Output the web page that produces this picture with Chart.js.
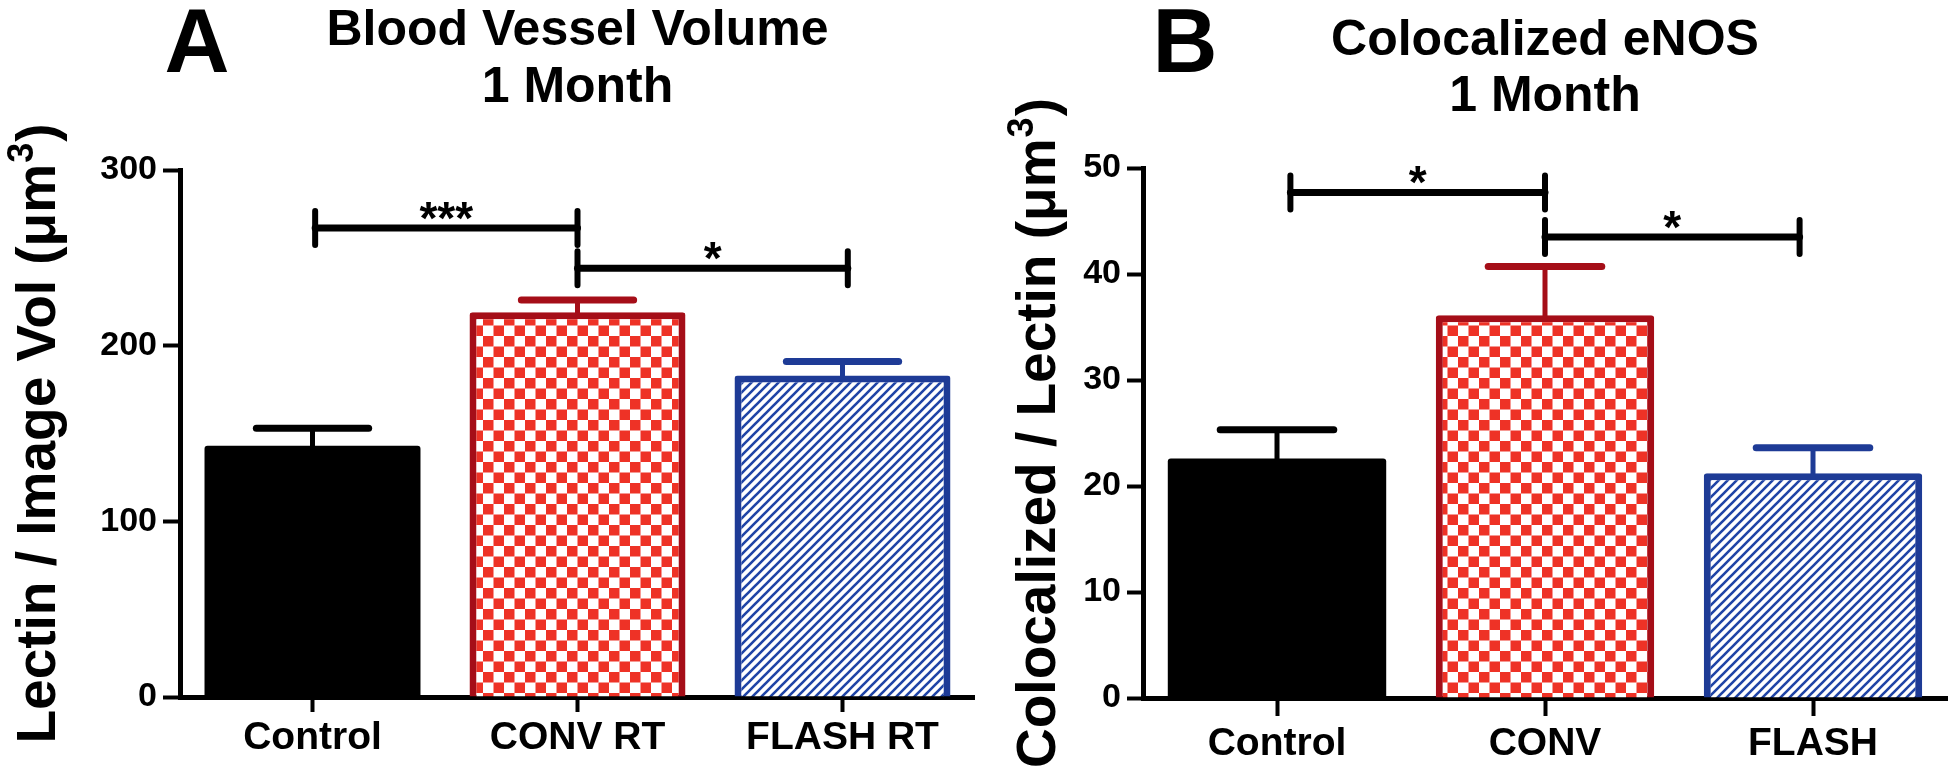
<!DOCTYPE html>
<html>
<head>
<meta charset="utf-8">
<script src="https://cdn.jsdelivr.net/npm/chart.js@4.4.1/dist/chart.umd.min.js"></script>
<style>
  html, body { margin: 0; padding: 0; background: #fff; }
  #wrap { position: relative; width: 1950px; height: 773px; }
  canvas { position: absolute; top: 0; }
  #chartA { left: 0; }
  #chartB { left: 975px; }
</style>
</head>
<body>
<div id="wrap">
  <canvas id="chartA" width="975" height="773"></canvas>
  <canvas id="chartB" width="975" height="773"></canvas>
</div>
<script>
// panel A: blood vessel volume
const groupsA = ['Control', 'CONV RT', 'FLASH RT'];
const meanA = [143, 219, 183];
const semA = [10, 7, 8];
const yTicksA = [0, 100, 200, 300];
const sigPairsA = [[0.01, 1], [1, 2.02]];
const sigLevelA = [267, 244];
const sigTextA = ['***', '*'];

// panel B: colocalized eNOS
const groupsB = ['Control', 'CONV', 'FLASH'];
const meanB = [22.6, 36.1, 21.2];
const semB = [2.7, 4.6, 2.4];
const yTicksB = [0, 10, 20, 30, 40, 50];
const sigPairsB = [[0.05, 1], [1, 1.95]];
const sigLevelB = [47.7, 43.5];
const sigTextB = ['*', '*'];

const FONT = "'Liberation Sans', Arial, sans-serif";
const RED = '#ee3226';
const DARKRED = '#a50e18';
const BLUE = '#1e3b96';

function checker() {
  const c = document.createElement('canvas');
  c.width = 21; c.height = 21;
  const g = c.getContext('2d');
  g.fillStyle = '#fff';
  g.fillRect(0, 0, 21, 21);
  g.fillStyle = RED;
  g.fillRect(0, 0, 10.5, 10.5);
  g.fillRect(10.5, 10.5, 10.5, 10.5);
  return g.createPattern(c, 'repeat');
}

function hatch() {
  const s = 9;
  const c = document.createElement('canvas');
  c.width = s; c.height = s;
  const g = c.getContext('2d');
  g.fillStyle = '#fff';
  g.fillRect(0, 0, s, s);
  g.strokeStyle = '#1f44a6';
  g.lineWidth = 2.6;
  g.beginPath();
  g.moveTo(-1, s + 1); g.lineTo(s + 1, -1);
  g.moveTo(-2, 2); g.lineTo(2, -2);
  g.moveTo(s - 2, s + 2); g.lineTo(s + 2, s - 2);
  g.stroke();
  return g.createPattern(c, 'repeat');
}

// error bars (upper only), significance brackets, panel letter, y title with superscript
const extras = {
  id: 'extras',
  afterDraw(chart, args, o) {
    const { ctx, chartArea } = chart;
    const x = chart.scales.x, y = chart.scales.y;
    const meta = chart.getDatasetMeta(0);
    ctx.save();
    ctx.lineCap = 'round';
    o.mean.forEach((m, i) => {
      const cx = x.getPixelForValue(i);
      const base = y.getPixelForValue(m);
      const top = y.getPixelForValue(m + o.sem[i]);
      const half = meta.data[i].width * 0.26;
      ctx.strokeStyle = o.colors[i];
      ctx.lineWidth = 5;
      ctx.beginPath(); ctx.moveTo(cx, base + 4); ctx.lineTo(cx, top); ctx.stroke();
      ctx.lineWidth = 7;
      ctx.beginPath(); ctx.moveTo(cx - half, top); ctx.lineTo(cx + half, top); ctx.stroke();
    });

    ctx.strokeStyle = '#000';
    ctx.fillStyle = '#000';
    ctx.font = 'bold 46px ' + FONT;
    ctx.textAlign = 'center';
    ctx.textBaseline = 'alphabetic';
    o.pairs.forEach((p, i) => {
      const x1 = x.getPixelForValue(p[0]);
      const x2 = x.getPixelForValue(p[1]);
      const yy = y.getPixelForValue(o.levels[i]);
      ctx.lineWidth = 7;
      ctx.beginPath(); ctx.moveTo(x1, yy); ctx.lineTo(x2, yy); ctx.stroke();
      ctx.lineWidth = 6;
      ctx.beginPath();
      ctx.moveTo(x1, yy - o.tick); ctx.lineTo(x1, yy + o.tick);
      ctx.moveTo(x2, yy - o.tick); ctx.lineTo(x2, yy + o.tick);
      ctx.stroke();
      const mt = ctx.measureText(o.texts[i]);
      const mid = (mt.actualBoundingBoxAscent - mt.actualBoundingBoxDescent) / 2;
      ctx.fillText(o.texts[i], (x1 + x2) / 2, yy - 17 + mid);
    });

    ctx.font = 'bold 90px ' + FONT;
    ctx.fillText(o.letter, o.letterX, 72);

    // rotated axis title: main part, raised "3", closing bracket
    const big = 'bold 55px ' + FONT, small = 'bold 36px ' + FONT;
    ctx.font = big;
    const w1 = ctx.measureText(o.yTitle[0]).width;
    const w3 = ctx.measureText(o.yTitle[2]).width;
    ctx.font = small;
    const w2 = ctx.measureText(o.yTitle[1]).width + 2;
    const total = w1 + w2 + w3;
    ctx.translate(o.yTitleBase, (chartArea.top + chartArea.bottom) / 2);
    ctx.rotate(-Math.PI / 2);
    ctx.textAlign = 'left';
    let pos = -total / 2;
    ctx.font = big;
    ctx.fillText(o.yTitle[0], pos, 0);
    pos += w1 + 1;
    ctx.font = small;
    ctx.fillText(o.yTitle[1], pos, -22);
    pos += w2 - 1;
    ctx.font = big;
    ctx.fillText(o.yTitle[2], pos, 0);
    ctx.restore();
  }
};

function makeChart(id, cfg) {
  return new Chart(document.getElementById(id), {
    type: 'bar',
    data: {
      labels: cfg.labels,
      datasets: [{
        data: cfg.mean,
        backgroundColor: ['#000', checker(), hatch()],
        borderColor: ['#000', DARKRED, BLUE],
        borderWidth: [0, 7, 7],
        borderRadius: 3,
        borderSkipped: 'start',
        barPercentage: 0.815,
        categoryPercentage: 1
      }]
    },
    options: {
      responsive: false,
      animation: false,
      devicePixelRatio: 1,
      layout: { padding: { left: 0, right: cfg.padRight, top: 0, bottom: 0 } },
      plugins: {
        legend: { display: false },
        tooltip: { enabled: false },
        title: {
          display: true,
          fullSize: false,
          text: cfg.title,
          color: '#000',
          font: { family: FONT, size: 50, weight: 'bold', lineHeight: cfg.titleLine },
          padding: cfg.titlePad
        },
        extras: {
          mean: cfg.mean, sem: cfg.sem,
          colors: ['#000', DARKRED, BLUE],
          pairs: cfg.pairs, levels: cfg.levels, texts: cfg.texts,
          tick: 17, letter: cfg.letter, letterX: cfg.letterX,
          yTitle: cfg.yTitle, yTitleBase: cfg.yTitleBase
        }
      },
      scales: {
        x: {
          z: 1,
          grid: { offset: false, drawOnChartArea: false, tickLength: cfg.xTick, tickWidth: 4, color: '#000' },
          border: { color: '#000', width: 5 },
          ticks: { color: '#000', font: { family: FONT, size: 39, weight: 'bold' }, padding: cfg.xPad },
          afterFit: s => { s.height = cfg.xHeight; }
        },
        y: {
          z: 1,
          min: cfg.yTicks[0],
          max: cfg.yTicks[cfg.yTicks.length - 1],
          afterBuildTicks: s => { s.ticks = cfg.yTicks.map(v => ({ value: v })); },
          grid: { drawOnChartArea: false, tickLength: cfg.yTick, tickWidth: 4, color: '#000' },
          border: { color: '#000', width: 5 },
          ticks: { color: '#000', font: { family: FONT, size: 34, weight: 'bold' }, padding: 6 },
          afterFit: s => { s.width = cfg.yWidth; }
        }
      }
    },
    plugins: [extras]
  });
}

makeChart('chartA', {
  labels: groupsA, mean: meanA, sem: semA, yTicks: yTicksA,
  pairs: sigPairsA, levels: sigLevelA, texts: sigTextA,
  title: ['Blood Vessel Volume', '1 Month'], titleLine: 1.14, titlePad: { top: 3, bottom: 53 },
  yTitle: ['Lectin / Image Vol (μm', '3', ')'], yTitleBase: 55, yWidth: 180, yTick: 17,
  xTick: 15, xPad: 3, xHeight: 76, padRight: 0,
  letter: 'A', letterX: 197
});

makeChart('chartB', {
  labels: groupsB, mean: meanB, sem: semB, yTicks: yTicksB,
  pairs: sigPairsB, levels: sigLevelB, texts: sigTextB,
  title: ['Colocalized eNOS', '1 Month'], titleLine: 1.12, titlePad: { top: 13, bottom: 43 },
  yTitle: ['Colocalized / Lectin (μm', '3', ')'], yTitleBase: 80, yWidth: 168, yTick: 16,
  xTick: 18, xPad: 5, xHeight: 75, padRight: 3,
  letter: 'B', letterX: 210
});
</script>
</body>
</html>
